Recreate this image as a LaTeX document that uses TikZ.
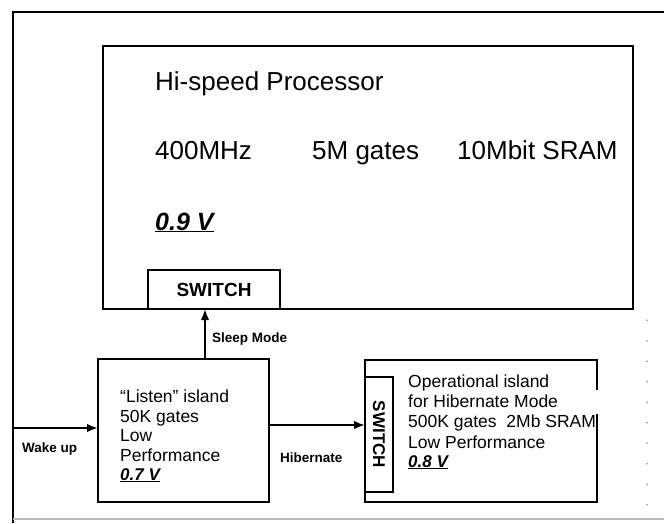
\documentclass[tikz,border=0pt]{standalone}
\usepackage{fontspec}
\setmainfont{Liberation Sans}
\usetikzlibrary{arrows.meta}
\begin{document}
\begin{tikzpicture}[x=1pt,y=-1pt,
  box/.style={draw, line width=2pt, inner sep=0pt, outer sep=0pt},
  bigtxt/.style={font=\fontsize{26}{30}\selectfont, anchor=base west, inner sep=0pt},
  midtxt/.style={font=\fontsize{17.5}{20}\selectfont, anchor=base west, inner sep=0pt},
  lbl/.style={font=\bfseries\fontsize{13.5}{15}\selectfont, anchor=base west, inner sep=0pt},
  arr/.style={line width=1.9pt, -{Latex[length=11pt,width=8.5pt]}}]
\useasboundingbox (0,0) rectangle (664,523);
% outer frame
\draw[line width=1.8pt] (664,12) -- (13,12) -- (13,523);
\draw[gray!55, line width=1.4pt] (13,519) -- (664,519);
\draw[gray!70, line width=1.3pt, line cap=round, dash pattern=on 0.5pt off 20pt] (647,320) -- (647,516);
% processor
\node[box, minimum width=530pt, minimum height=263pt] (proc) at (368,177.5) {};
\node[bigtxt] (t1) at (155,90) {Hi-speed Processor};
\node[bigtxt] (t2) at (155,159) {400MHz};
\node[bigtxt] (t3) at (312,159) {5M gates};
\node[bigtxt] (t4) at (457,159) {10Mbit SRAM};
\node[bigtxt, font=\bfseries\itshape\fontsize{25}{30}\selectfont] (t5) at (155,230) {\underline{0.9 V}};
\node[box, minimum width=132pt, minimum height=39pt, font=\bfseries\fontsize{19}{22}\selectfont] (sw1) at (214,289.5) {SWITCH};
% listen island
\node[box, minimum width=171pt, minimum height=143pt] (listen) at (183.5,430.5) {};
\node[midtxt] (l1) at (120,402) {“Listen” island};
\node[midtxt] (l2) at (120,422) {50K gates};
\node[midtxt] (l3) at (120,441) {Low};
\node[midtxt] (l4) at (120,461) {Performance};
\node[midtxt, font=\bfseries\itshape\fontsize{17}{20}\selectfont] (l5) at (120,480) {\underline{0.7 V}};
% operational island
\node[inner sep=0pt, outer sep=0pt, minimum width=232pt, minimum height=142pt] (op) at (481,431) {};
\draw[line width=2pt] (op.east |- 0,390) -- (op.north east) -- (op.north west) -- (op.south west) -- (op.south east) -- (op.east |- 0,414);
\node[box, minimum width=28pt, minimum height=115pt] (sw2) at (379,434.5) {};
\node[font=\bfseries\fontsize{17}{20}\selectfont, rotate=-90, inner sep=0pt] (sw2t) at (sw2.center) {SWITCH};
\node[midtxt] (o1) at (408,387) {Operational island};
\node[midtxt] (o2) at (408,407) {for Hibernate Mode};
\node[midtxt] (o3) at (408,427) {500K gates\ \ 2Mb SRAM};
\node[midtxt] (o4) at (408,448) {Low Performance};
\node[midtxt, font=\bfseries\itshape\fontsize{17}{20}\selectfont] (o5) at (408,467) {\underline{0.8 V}};
% connectors
\draw[arr] ([xshift=21.5pt]listen.north) coordinate (s0) -- (s0 |- proc.south);
\node[lbl] (sleep) at (212,342) {Sleep Mode};
\coordinate (wk) at (13,428);
\draw[arr] (wk) -- (wk -| listen.west);
\node[lbl] (wake) at (22,452) {Wake up};
\draw[arr] ([yshift=5.5pt]listen.east) coordinate (h0) -- (h0 -| sw2.west);
\node[lbl] (hib) at (280,462) {Hibernate};
\end{tikzpicture}
\end{document}
